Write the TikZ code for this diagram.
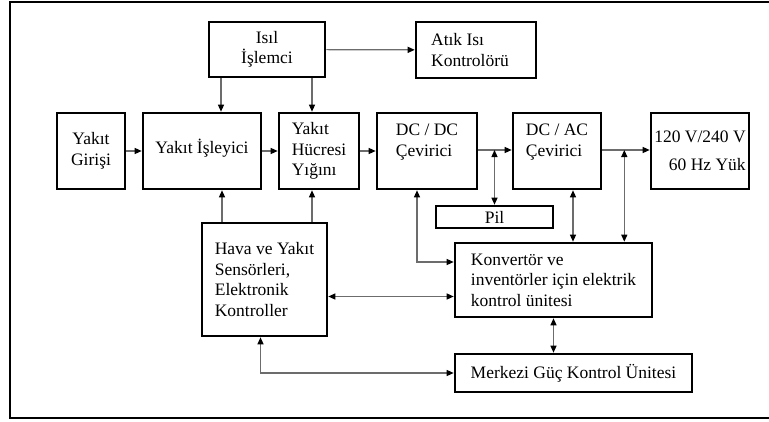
\documentclass[tikz,border=0pt]{standalone}
\usepackage{fontspec}
\setmainfont{Liberation Serif}
\usetikzlibrary{arrows.meta}
\tikzset{
  kutu/.style={draw, line width=2.6pt, inner sep=0pt, align=left,
    font=\fontsize{17.5}{20.5}\selectfont},
  ok/.style={draw=gray!85!black, line width=1.2pt,
    -{Triangle[length=7pt,width=6pt,color=black]}},
  ciftok/.style={draw=gray!85!black, line width=1.2pt,
    {Triangle[length=7pt,width=6pt,color=black]}-{Triangle[length=7pt,width=6pt,color=black]}}
}
\begin{document}
\begin{tikzpicture}[x=1pt,y=-1pt]
    \useasboundingbox (0,0) rectangle (769,421);
    % Frame
    \draw[line width=2pt] (769,2) -- (10,2) -- (10,418) -- (769,418);

    % Blocks
    \node[kutu, align=center, minimum width=116, minimum height=55] (isil) at (267,49.5) {Isıl\\İşlemci};
    \node[kutu, minimum width=120, minimum height=56] (atik) at (476,50) {\hspace*{-12pt}Atık Isı\\\hspace*{-12pt}Kontrolörü};
    \node[kutu, align=center, minimum width=68, minimum height=76] (giris) at (91,151) {Yakıt\\Girişi};
    \node[kutu, minimum width=118, minimum height=76, text depth=10pt] (isleyici) at (202,151) {Yakıt İşleyici};
    \node[kutu, minimum width=80, minimum height=76] (hucre) at (319,151) {Yakıt\\Hücresi\\Yığını};
    \node[kutu, minimum width=100, minimum height=76, text depth=22pt] (dcdc) at (427,151) {DC / DC\\Çevirici};
    \node[kutu, minimum width=88, minimum height=76, text depth=22pt] (dcac) at (557,151) {DC / AC\\Çevirici};
    \node[kutu, align=right, minimum width=98, minimum height=76] (yuk) at (700,151) {120 V/240 V\\[8pt]60 Hz Yük};
    \node[kutu, minimum width=117, minimum height=22] (pil) at (494.5,217) {Pil};
    \node[kutu, minimum width=125, minimum height=113] (hava) at (264.5,279.5) {Hava ve Yakıt\\Sensörleri,\\Elektronik\\Kontroller};
    \node[kutu, minimum width=197, minimum height=74] (konv) at (553.5,280) {Konvertör ve\\inventörler için elektrik\\kontrol ünitesi};
    \node[kutu, minimum width=237, minimum height=38] (merkez) at (573.5,373) {Merkezi Güç Kontrol Ünitesi};

    % Main line
    \draw[ok] (isil) -- (atik);
    \draw[ok] (giris) -- (isleyici);
    \draw[ok] (isleyici) -- (hucre);
    \draw[ok] (hucre) -- (dcdc);
    \draw[ok] ([yshift=1]dcdc.east) -- ([yshift=1]dcdc.east -| dcac.west);
    \draw[ok] ([yshift=1]dcac.east) -- ([yshift=1]dcac.east -| yuk.west);

    % Heat and sensors
    \draw[ok] ([xshift=-46]isil.south) -- ([xshift=-46]isil.south |- isleyici.north);
    \draw[ok] ([xshift=45]isil.south) -- ([xshift=45]isil.south |- hucre.north);
    \draw[ok] ([xshift=-42.5]hava.north) -- ([xshift=-42.5]hava.north |- isleyici.south);
    \draw[ok] ([xshift=47.5]hava.north) -- ([xshift=47.5]hava.north |- hucre.south);

    % Control links
    \draw[ciftok] ([yshift=1]pil.north |- dcdc.east) -- (pil.north);
    \draw[ciftok] ([xshift=-29,yshift=1]konv.north east |- dcac.east) -- ([xshift=-29]konv.north east);
    \draw[ciftok] ([xshift=16]dcac.south) -- ([xshift=16]dcac.south |- konv.north);
    \draw[ciftok] ([xshift=-10]dcdc.south) |- ([yshift=18]konv.west);
    \draw[ciftok] ([yshift=-17]hava.east) -- ([yshift=-17]hava.east -| konv.west);
    \draw[ciftok] ([xshift=-4]hava.south) |- (merkez.west);
    \draw[ciftok] (konv.south) -- (konv.south |- merkez.north);
\end{tikzpicture}
\end{document}
